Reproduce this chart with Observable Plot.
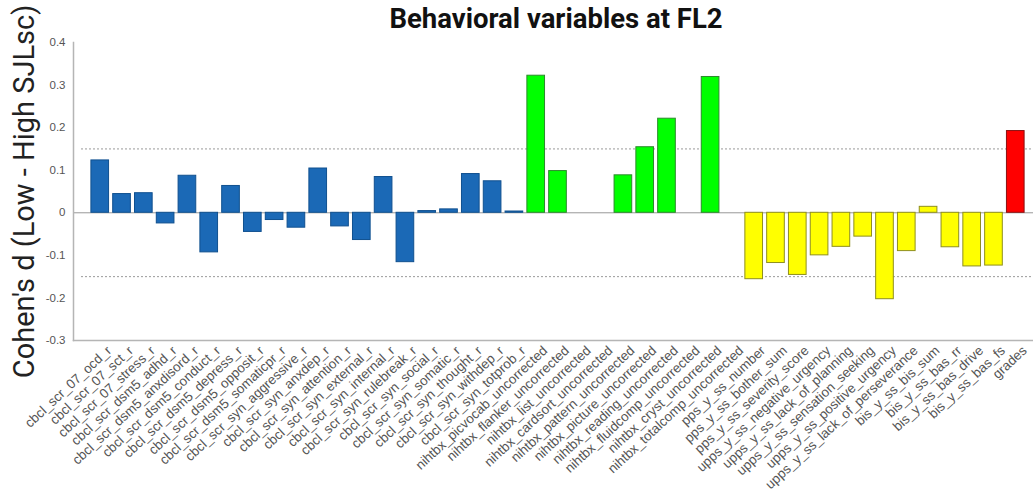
<!DOCTYPE html>
<html>
<head>
<meta charset="utf-8">
<script src="https://cdn.jsdelivr.net/npm/d3@7"></script>
<script src="https://cdn.jsdelivr.net/npm/@observablehq/plot@0.6"></script>
<style>
  html, body { margin: 0; padding: 0; background: #fff; }
  #wrap { position: relative; width: 1033px; height: 496px; overflow: hidden; }
  #title { position: absolute; left: 0; width: 1112px; top: 2px; text-align: center;
           font: bold 27.5px Roboto, "Liberation Sans", sans-serif; color: #111; }
</style>
</head>
<body>
<div id="wrap">
  <div id="title">Behavioral variables at FL2</div>
  <div id="chart"></div>
</div>
<script>
const cbclNames = ["cbcl_scr_07_ocd_r","cbcl_scr_07_sct_r","cbcl_scr_07_stress_r","cbcl_scr_dsm5_adhd_r","cbcl_scr_dsm5_anxdisord_r","cbcl_scr_dsm5_conduct_r","cbcl_scr_dsm5_depress_r","cbcl_scr_dsm5_opposit_r","cbcl_scr_dsm5_somaticpr_r","cbcl_scr_syn_aggressive_r","cbcl_scr_syn_anxdep_r","cbcl_scr_syn_attention_r","cbcl_scr_syn_external_r","cbcl_scr_syn_internal_r","cbcl_scr_syn_rulebreak_r","cbcl_scr_syn_social_r","cbcl_scr_syn_somatic_r","cbcl_scr_syn_thought_r","cbcl_scr_syn_withdep_r","cbcl_scr_syn_totprob_r"];
const cbclValues = [0.123,0.044,0.046,-0.025,0.087,-0.093,0.063,-0.045,-0.017,-0.035,0.104,-0.032,-0.064,0.084,-0.116,0.004,0.008,0.091,0.074,0.003];

const nihNames = ["nihtbx_picvocab_uncorrected","nihtbx_flanker_uncorrected","nihtbx_list_uncorrected","nihtbx_cardsort_uncorrected","nihtbx_pattern_uncorrected","nihtbx_picture_uncorrected","nihtbx_reading_uncorrected","nihtbx_fluidcomp_uncorrected","nihtbx_cryst_uncorrected","nihtbx_totalcomp_uncorrected"];
const nihValues = [0.322,0.098,null,null,0.088,0.154,0.221,null,0.319,null];

const impNames = ["pps_y_ss_number","pps_y_ss_bother_sum","pps_y_ss_severity_score","upps_y_ss_negative_urgency","upps_y_ss_lack_of_planning","upps_y_ss_sensation_seeking","upps_y_ss_positive_urgency","upps_y_ss_lack_of_perseverance","bis_y_ss_bis_sum","bis_y_ss_bas_rr","bis_y_ss_bas_drive","bis_y_ss_bas_fs"];
const impValues = [-0.156,-0.118,-0.146,-0.100,-0.080,-0.056,-0.203,-0.090,0.014,-0.081,-0.126,-0.124];

const gradeNames = ["grades"];
const gradeValues = [0.192];

const groupNames = ["cbcl","nihtbx","impulsivity","grades"];
const groupFills = ["#1b69b6","#00ff00","#ffff00","#ff0000"];
const groupStrokes = ["#10508f","#2c8a2c","#8f8f1f","#8a1010"];

const yTicks = [-0.3,-0.2,-0.1,0,0.1,0.2,0.3,0.4];
const thresholds = [0.15,-0.15];

const rows = [];
[[cbclNames,cbclValues,0],[nihNames,nihValues,1],[impNames,impValues,2],[gradeNames,gradeValues,3]]
  .forEach(([names, vals, g]) => names.forEach((n, i) => rows.push({name: n, value: vals[i], group: groupNames[g]})));
const categories = rows.map(d => d.name);
const strokeOf = Object.fromEntries(groupNames.map((g, i) => [g, groupStrokes[i]]));

const chart = Plot.plot({
  width: 1033,
  height: 496,
  marginTop: 42,
  marginBottom: 156,
  marginLeft: 73,
  marginRight: 0,
  style: {fontFamily: "'Liberation Sans', Arial, sans-serif", background: "transparent"},
  x: {domain: categories, range: [80, 1035], paddingInner: 0.19, paddingOuter: 0.5},
  y: {domain: [-0.3, 0.4]},
  color: {domain: groupNames, range: groupFills},
  marks: [
    Plot.ruleY(thresholds, {stroke: "#999", strokeDasharray: "2,2", strokeWidth: 1, insetLeft: 8}),
    Plot.ruleY([0], {stroke: "#999", strokeWidth: 1}),
    Plot.frame({anchor: "left", stroke: "#b5b5b5", strokeWidth: 1.5}),
    Plot.frame({anchor: "bottom", stroke: "#b5b5b5", strokeWidth: 1.5}),
    Plot.barY(rows.filter(d => d.value != null), {
      x: "name", y: "value", fill: "group", stroke: d => strokeOf[d.group], strokeWidth: 1
    }),
    Plot.axisY({ticks: yTicks, tickSize: 0, tickPadding: 8, fontSize: 11.5, fill: "#555",
      tickFormat: d => String(+d.toFixed(2)), label: null}),
    Plot.axisY({ticks: [], tickSize: 0, label: "Cohen's d (Low - High SJLsc)", labelAnchor: "center",
      labelArrow: "none", labelOffset: 60, fontSize: 29, fill: "#222",
      fontFamily: "Roboto, 'Liberation Sans', sans-serif"}),
    Plot.axisX({tickSize: 0, tickRotate: -43, tickPadding: 5, fontSize: 13.4, fill: "#555",
      label: null, dx: 9, dy: 3})
  ]
});
document.getElementById("chart").appendChild(chart);
</script>
</body>
</html>
